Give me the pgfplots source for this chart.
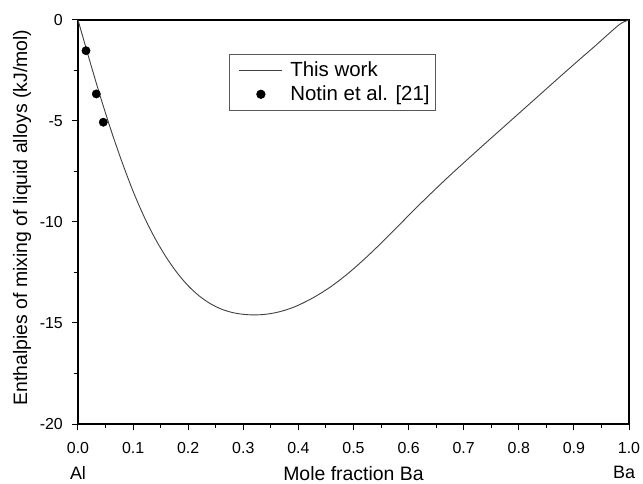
\documentclass[border=0pt]{standalone}
\usepackage{fontspec}
\setmainfont{Liberation Sans}
\usepackage{pgfplots}
\pgfplotsset{compat=1.18}
\pgfplotsset{
  mylineleg/.style={legend image code/.code={\path[draw=none, fill=none] (-7bp,0bp) -- (48bp,0bp); \draw[##1] (0bp,0bp) -- (43bp,0bp);}},
  mymarkleg/.style={legend image code/.code={\path[draw=none, fill=none] (-7bp,0bp) -- (48bp,0bp); \draw[##1, only marks] plot coordinates {(21.5bp,0bp)};}},
}
\newcommand{\legfont}{\fontsize{20.5}{23}\selectfont}
\begin{document}
\begin{tikzpicture}
\begin{axis}[
  name=ax, at={(0,0)}, anchor=south west,
  scale only axis, width=551bp, height=404bp,
  xmin=0, xmax=1, ymin=-20, ymax=0,
  xtick={0,0.1,0.2,0.3,0.4,0.5,0.6,0.7,0.8,0.9,1},
  xticklabels={0.0,0.1,0.2,0.3,0.4,0.5,0.6,0.7,0.8,0.9,1.0},
  minor x tick num=1,
  ytick={-20,-15,-10,-5,0},
  yticklabels={-20,-15,-10,-5,0},
  minor y tick num=1,
  tick align=outside, xtick pos=bottom, ytick pos=left,
  major tick length=6bp, minor tick length=3.5bp,
  tick style={black, line width=1bp},
  axis line style={black, line width=1.2bp},
  xticklabel style={font=\fontsize{16}{18}\selectfont, anchor=base, inner sep=0pt, yshift=-23bp},
  yticklabel style={font=\fontsize{16}{18}\selectfont, anchor=east, inner sep=0pt, xshift=-9bp},
  legend style={at={(rel axis cs:0.274,0.916)}, anchor=north west, draw=black!65, line width=0.8bp,
    font=\legfont, inner xsep=3bp, inner ysep=3.5bp, row sep=0bp,
    nodes={inner xsep=3bp, inner ysep=4bp}},
  legend cell align=left,
  clip=false,
]
\addplot[color=black!75, line width=0.9bp, smooth, mylineleg] table {
x y
0 0
0.02 -1.90
0.04 -3.74
0.06 -5.46
0.08 -7.04
0.10 -8.48
0.12 -9.74
0.14 -10.82
0.16 -11.74
0.18 -12.52
0.20 -13.16
0.22 -13.66
0.24 -14.04
0.26 -14.31
0.28 -14.48
0.30 -14.57
0.32 -14.60
0.34 -14.57
0.36 -14.48
0.38 -14.33
0.40 -14.12
0.43 -13.70
0.46 -13.18
0.49 -12.55
0.52 -11.83
0.55 -11.05
0.58 -10.23
0.61 -9.40
0.64 -8.60
0.67 -7.82
0.70 -7.07
0.73 -6.33
0.76 -5.60
0.79 -4.87
0.82 -4.14
0.85 -3.41
0.88 -2.68
0.91 -1.96
0.94 -1.25
0.96 -0.76
0.98 -0.28
0.99 -0.10
1.00 0
};
\addlegendentry{\legfont This work}
\addplot[only marks, mark=*, mark size=4.2bp, black, mymarkleg]
  coordinates {(0.0145,-1.52) (0.0332,-3.66) (0.0459,-5.06)};
\addlegendentry{\legfont Notin et al. [21]}
\end{axis}
\node[anchor=base, font=\fontsize{18}{21}\selectfont, inner sep=0pt] at ([yshift=-55bp]ax.south west) {Al};
\node[anchor=base, font=\fontsize{18}{21}\selectfont, inner sep=0pt] at ([xshift=-5bp, yshift=-54bp]ax.south east) {Ba};
\node[anchor=base, font=\fontsize{19.5}{22}\selectfont, inner sep=0pt] at ([yshift=-56bp]ax.south) {Mole fraction Ba};
\node[rotate=90, anchor=center, font=\fontsize{19.5}{22}\selectfont, inner sep=0pt] at (-56bp,206.5bp) {Enthalpies of mixing of liquid alloys (kJ/mol)};
\pgfresetboundingbox
\path[use as bounding box] (-78bp,-60bp) rectangle (565bp,424bp);
\end{tikzpicture}
\end{document}
